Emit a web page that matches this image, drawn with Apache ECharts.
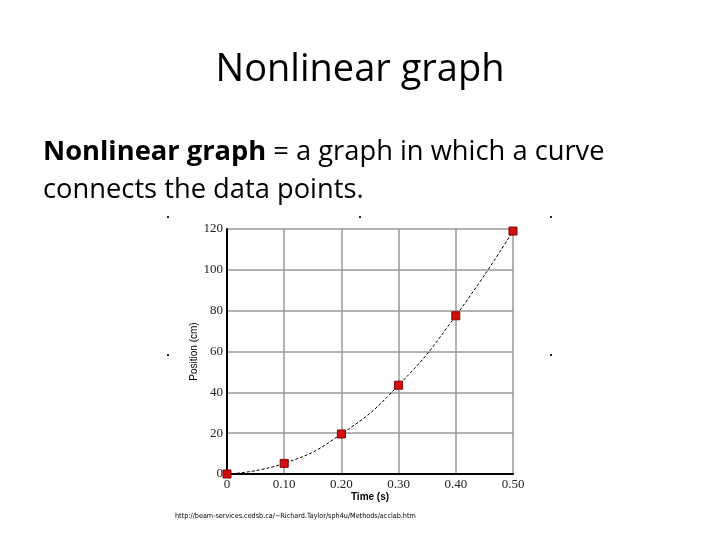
<!DOCTYPE html>
<html><head><meta charset="utf-8">
<script src="https://cdn.jsdelivr.net/npm/echarts@6/dist/echarts.min.js"></script>
<style>html,body{margin:0;padding:0;background:#fff}#c{width:720px;height:540px}</style>
</head><body><div id="c"></div>
<script>
var times = [0, 0.10, 0.20, 0.30, 0.40, 0.50];
var positions = [0, 5.2, 19.6, 43.5, 77.5, 119];
var xTickLabels = ['0', '0.10', '0.20', '0.30', '0.40', '0.50'];
var yTickLabels = ['0', '20', '40', '60', '80', '100', '120'];

var chart = echarts.init(document.getElementById('c'));
var data = times.map(function (t, i) { return [t, positions[i]]; });
var dot = function (x, y) { return { type: 'rect', shape: { x: x, y: y, width: 2, height: 2 }, style: { fill: '#222' } }; };
chart.setOption({
  animation: false,
  backgroundColor: '#fff',
  grid: { left: 227, right: 207, top: 229, bottom: 66 },
  graphic: [
    { type: 'text', left: 'center', top: 51, style: { text: 'Nonlinear graph', font: '38px "Open Sans", sans-serif', fill: '#000' } },
    { type: 'text', left: 43, top: 139, style: { rich: { b: { font: 'bold 27.3px "Open Sans", sans-serif', fill: '#000' }, n: { font: '27.3px "Open Sans", sans-serif', fill: '#000' } }, text: '{b|Nonlinear graph}{n| = a graph in which a curve}' } },
    { type: 'text', left: 43, top: 177, style: { text: 'connects the data points.', font: '27.3px "Open Sans", sans-serif', fill: '#000' } },
    { type: 'text', left: 175, top: 513, style: { text: 'http://beam-services.cedsb.ca/~Richard.Taylor/sph4u/Methods/acclab.htm', font: '7.2px "DejaVu Sans Condensed", sans-serif', fill: '#000' } },
    dot(167, 216), dot(359, 216), dot(550, 216), dot(167, 354), dot(550, 354)
  ],
  xAxis: {
    type: 'value', min: 0, max: 0.5, interval: 0.1,
    name: 'Time (s)', nameLocation: 'middle', nameGap: 18,
    nameTextStyle: { fontFamily: 'Liberation Sans', fontWeight: 'bold', fontSize: 10, color: '#000' },
    axisLine: { lineStyle: { color: '#000', width: 2 } },
    axisTick: { show: false },
    axisLabel: { fontFamily: 'Liberation Serif', fontSize: 13, color: '#222', margin: 4,
      formatter: function (v) { return xTickLabels[Math.round(v * 10)]; } },
    splitLine: { show: true, lineStyle: { color: '#999', width: 1.5 } }
  },
  yAxis: {
    type: 'value', min: 0, max: 120, interval: 20,
    name: 'Position (cm)', nameLocation: 'middle', nameGap: 28,
    nameTextStyle: { fontFamily: 'Liberation Sans', fontSize: 10, color: '#000' },
    axisLine: { show: true, lineStyle: { color: '#000', width: 2 } },
    axisTick: { show: false },
    axisLabel: { fontFamily: 'Liberation Serif', fontSize: 13, color: '#222', margin: 4,
      formatter: function (v) { return yTickLabels[Math.round(v / 20)]; } },
    splitLine: { show: true, lineStyle: { color: '#999', width: 1.5 } }
  },
  series: [{
    type: 'line', data: data, smooth: true,
    lineStyle: { color: '#000', width: 1, type: [3, 2] },
    symbol: 'rect', symbolSize: 8,
    itemStyle: { color: '#d01010', borderColor: '#8a0000', borderWidth: 1 }
  }]
});
</script></body></html>
